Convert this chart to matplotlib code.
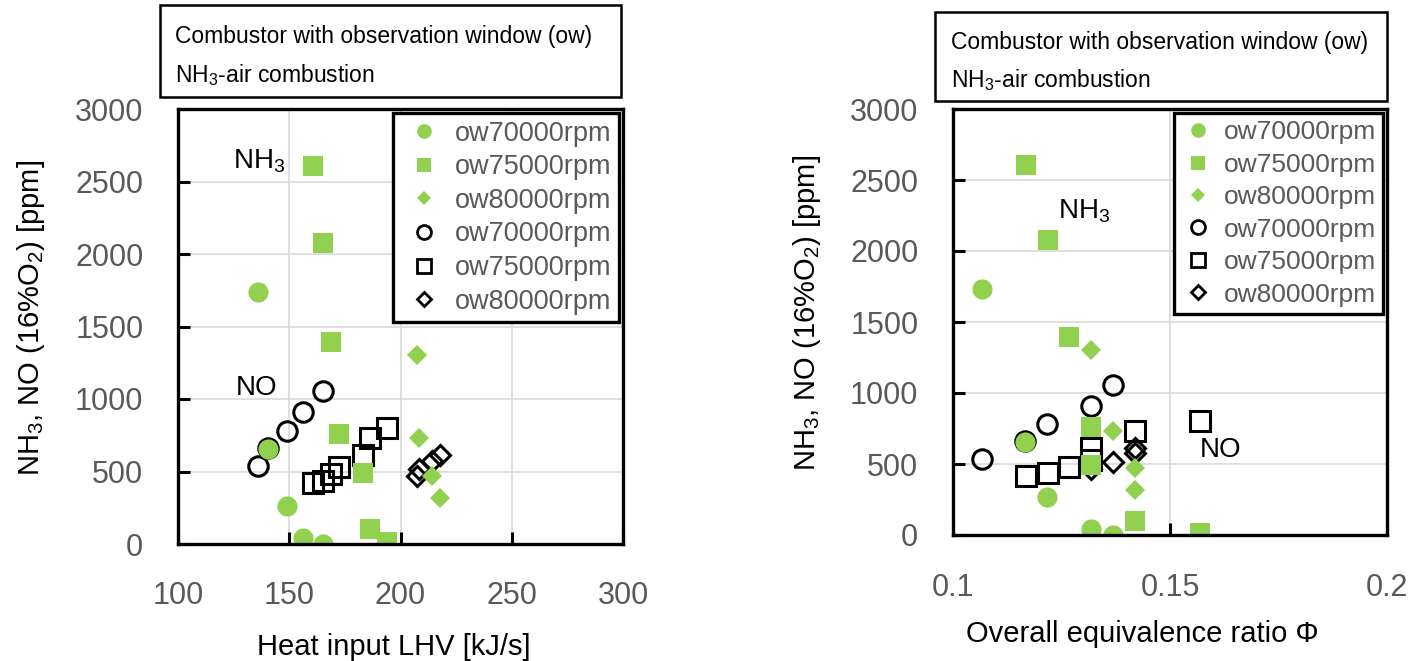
"""NH3 / NO emissions vs heat input and equivalence ratio (observation-window combustor)."""
import matplotlib

matplotlib.use("Agg")
import matplotlib.pyplot as plt
from matplotlib.lines import Line2D
from matplotlib.patches import Rectangle

plt.rcParams["font.family"] = ["Liberation Sans", "DejaVu Sans"]
plt.rcParams["mathtext.fontset"] = "custom"
plt.rcParams["mathtext.rm"] = "Liberation Sans"
plt.rcParams["mathtext.it"] = "Liberation Sans:italic"
plt.rcParams["mathtext.bf"] = "Liberation Sans:bold"

# --- data ------------------------------------------------------------------
# 70000 rpm
heat_70 = [136, 140.5, 149, 156, 165]
phi_70 = [0.1067, 0.1167, 0.1217, 0.1319, 0.1369]
nh3_70 = [1735, 655, 265, 42, 0]
no_70 = [538, 660, 780, 908, 1058]

# 75000 rpm
heat_75 = [160.5, 165, 168.9, 172.2, 183, 186.2, 193.8]
phi_75 = [0.1169, 0.1219, 0.1267, 0.1319, 0.1319, 0.1419, 0.1570]
nh3_75 = [2608, 2078, 1396, 762, 491, 101, 14]
no_75 = [418, 434, 480, 530, 613, 730, 800]

# 80000 rpm
heat_80 = [207.6, 208.2, 214.3, 217.9]
phi_80 = [0.1319, 0.1369, 0.1419, 0.1419]
nh3_80 = [1302, 732, 471, 315]
no_80 = [466, 515, 575, 612]

labels = ["ow70000rpm", "ow75000rpm", "ow80000rpm"]
GREEN = "#92D050"
GREY = "#595959"

FIG_W, FIG_H = 1414, 661


def fx(px):
    return px / FIG_W


def fy(py):
    return 1 - py / FIG_H


fig = plt.figure(figsize=(FIG_W / 100, FIG_H / 100), dpi=100)

ax1 = fig.add_axes([fx(178), fy(544), fx(623) - fx(178), fy(109) - fy(544)])
ax2 = fig.add_axes([fx(953), fy(535), fx(1387) - fx(953), fy(109) - fy(535)])


def draw_panel(ax, x70, x75, x80, leg_kw):
    # open markers (NO) underneath, filled green (NH3) on top
    ax.plot(x70, no_70, "o", ms=14, mfc="none", mec="black", mew=2.2, zorder=3)
    ax.plot(x75, no_75, "s", ms=14, mfc="none", mec="black", mew=2.2, zorder=3)
    ax.plot(x80, no_80, "D", ms=10, mfc="none", mec="black", mew=2.2, zorder=3)
    ax.plot(x70, nh3_70, "o", ms=14.5, color=GREEN, mew=0, zorder=4)
    ax.plot(x75, nh3_75, "s", ms=15, color=GREEN, mew=0, zorder=4)
    ax.plot(x80, nh3_80, "D", ms=10, color=GREEN, mew=0, zorder=4)

    ax.set_ylim(0, 3000)
    ax.set_yticks(range(0, 3001, 500))
    ax.grid(True, color="#d9d9d9", lw=1.2, zorder=0)
    for sp in ax.spines.values():
        sp.set_linewidth(2.4)
        sp.set_zorder(5)
    ax.tick_params(direction="in", length=8.5, width=2.2, labelsize=22,
                   labelcolor=GREY, top=False, right=False)
    ax.tick_params(axis="y", pad=25)
    ax.tick_params(axis="x", pad=27)
    ax.set_ylabel("NH$_3$, NO (16%O$_2$) [ppm]", fontsize=21)

    # legend built from proxies with smaller markers
    proxies = [
        Line2D([], [], ls="none", marker="o", ms=10.5, color=GREEN, mew=0),
        Line2D([], [], ls="none", marker="s", ms=10.5, color=GREEN, mew=0),
        Line2D([], [], ls="none", marker="D", ms=7, color=GREEN, mew=0),
        Line2D([], [], ls="none", marker="o", ms=10, mfc="none", mec="black", mew=2),
        Line2D([], [], ls="none", marker="s", ms=10, mfc="none", mec="black", mew=2),
        Line2D([], [], ls="none", marker="D", ms=7.5, mfc="none", mec="black", mew=2),
    ]
    leg = ax.legend(proxies, labels + labels, loc="upper right",
                    frameon=True, fancybox=False, framealpha=1,
                    borderaxespad=0.15, handletextpad=0.3, **leg_kw)
    leg.get_frame().set_edgecolor("black")
    leg.get_frame().set_linewidth(2.4)
    leg.set_zorder(6)
    for t in leg.get_texts():
        t.set_color(GREY)


draw_panel(ax1, heat_70, heat_75, heat_80,
           dict(fontsize=19.5, handlelength=1.7, labelspacing=0.28, borderpad=0.28))
ax1.set_xlim(100, 300)
ax1.set_xticks(range(100, 301, 50))
ax1.set_xlabel("Heat input LHV [kJ/s]", fontsize=21)
ax1.xaxis.set_label_coords(0.486, -0.205)
ax1.yaxis.set_label_coords(-0.294, 0.52)
ax1.text(124.8, 2640, "NH$_3$", fontsize=20, ha="left", va="center", zorder=6)
ax1.text(126, 1074, "NO", fontsize=20, ha="left", va="center", zorder=6)

draw_panel(ax2, phi_70, phi_75, phi_80,
           dict(fontsize=19, handlelength=1.3, labelspacing=0.32, borderpad=0.28))
ax2.set_xlim(0.1, 0.2)
ax2.set_xticks([0.1, 0.15, 0.2])
ax2.set_xticklabels(["0.1", "0.15", "0.2"])
ax2.set_xlabel("Overall equivalence ratio \u03a6", fontsize=21)
ax2.xaxis.set_label_coords(0.437, -0.2)
ax2.yaxis.set_label_coords(-0.3, 0.522)
ax2.text(0.1241, 2282, "NH$_3$", fontsize=20, ha="left", va="center", zorder=6)
ax2.text(0.1569, 599, "NO", fontsize=20, ha="left", va="center", zorder=6)


def header(x0, x1, y0, y1, tx, ty1, ty2):
    fig.patches.append(Rectangle((fx(x0), fy(y1)), fx(x1) - fx(x0), fy(y0) - fy(y1),
                                 transform=fig.transFigure, fill=True, fc="white",
                                 ec="black", lw=1.8, zorder=10))
    fig.text(fx(tx), fy(ty1), "Combustor with observation window (ow)",
             fontsize=16.5, va="center", ha="left", zorder=11)
    fig.text(fx(tx), fy(ty2), "NH$_3$-air combustion",
             fontsize=16.5, va="center", ha="left", zorder=11)


header(160, 621, 5, 97, 175, 37, 75)
header(935, 1387, 12, 101, 951, 43, 80)

fig.savefig("out.png", dpi=100)
